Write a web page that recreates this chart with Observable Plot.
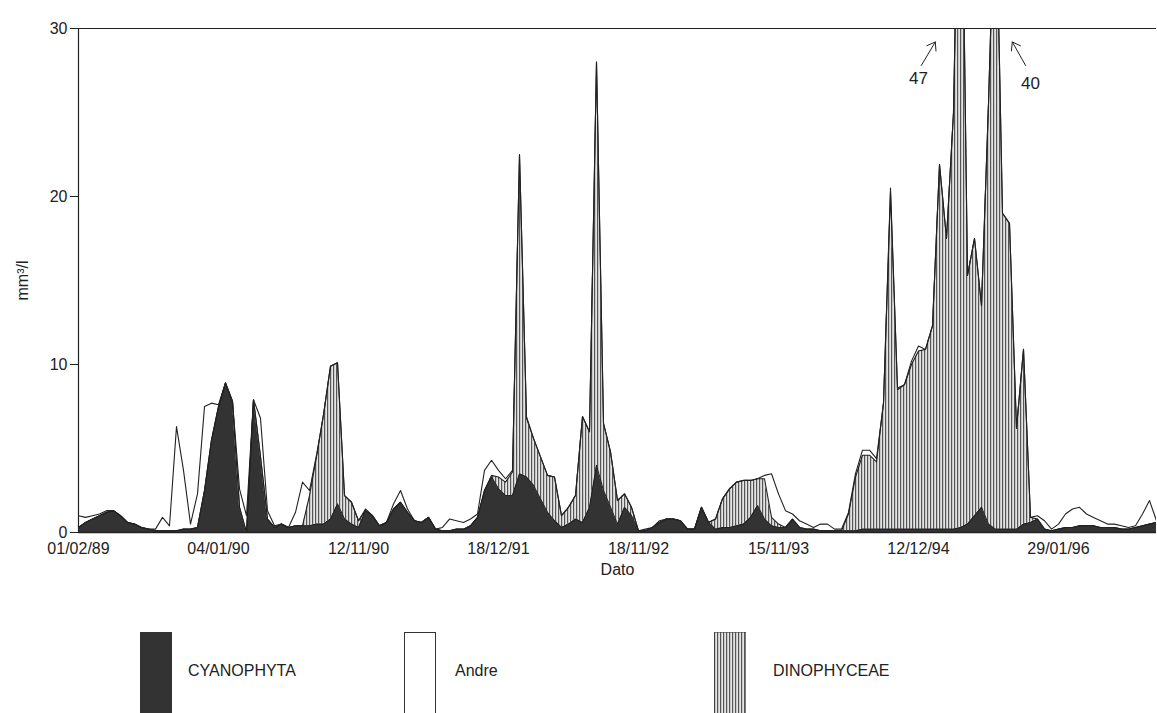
<!DOCTYPE html>
<html><head><meta charset="utf-8">
<script src="https://cdn.jsdelivr.net/npm/d3@7"></script>
<script src="https://cdn.jsdelivr.net/npm/@observablehq/plot@0.6"></script>
<style>
body{margin:0;background:#fff;font-family:"Liberation Sans",Arial,sans-serif;}
#wrap{position:relative;width:1157px;height:713px;overflow:hidden}
.lg{position:absolute;top:632px;height:90px;width:32px;border:1px solid #333;box-sizing:border-box}
.lt{position:absolute;top:662px;font-size:16px;color:#222}
</style></head><body><div id="wrap"></div>
<script>
const tickIndex=[0,20,40,60,80,100,120,140];
const tickLabels=["01/02/89","04/01/90","12/11/90","18/12/91","18/11/92","15/11/93","12/12/94","29/01/96"];
const cyanophyta=[.3,.6,.8,1.0,1.2,1.3,1.0,.6,.5,.3,.2,.1,.1,.1,.1,.2,.2,.3,2.5,5.5,7.5,8.9,7.8,1.5,0,7.9,4.5,.8,.3,.5,
.3,.4,.4,.4,.5,.5,.8,1.7,.8,.5,.3,1.3,1.0,.4,.6,1.4,1.8,1.2,.7,.6,.9,.2,.1,.1,.2,.2,.4,.9,2.5,3.3,
2.6,2.2,2.2,3.5,3.3,2.8,2.0,1.2,.7,.3,.5,.8,.6,1.5,4.0,2.5,1.5,.5,1.5,1.0,.1,.1,.3,.6,.8,.8,.7,.2,.2,1.5,
.6,.2,.3,.3,.4,.5,.9,1.6,.8,.4,.3,.3,.8,.3,.2,.2,.1,.1,.1,.1,.1,.1,.2,.2,.2,.2,.2,.2,.2,.2,
.2,.2,.2,.2,.2,.2,.3,.5,1.0,1.5,.5,.2,.2,.2,.2,.5,.6,.8,.2,.1,.2,.3,.3,.4,.4,.4,.3,.3,.3,.2,
.2,.3,.4,.5,.6];
const dinophyceae=[0,0,0,0,0,0,0,0,0,0,0,0,0,0,0,0,0,0,0,0,0,0,0,0,0,0,0,0,0,0,
0,0,0,1.8,4.0,6.5,9.1,8.4,1.4,1.3,.4,0,0,0,0,0,0,0,0,0,0,0,0,0,0,0,0,0,0,.1,
.7,.8,1.4,19,3.5,2.8,2.5,2.2,2.6,.7,1.0,1.4,6.3,4.5,24,4.0,3.3,1.4,.8,.5,0,0,0,0,0,0,0,0,0,0,
0,.6,1.7,2.3,2.6,2.6,2.2,1.6,2.4,.5,.2,0,0,0,0,0,0,0,0,0,1.0,3.2,4.4,4.4,4.0,7.5,20,8.3,8.6,9.8,
10.6,10.7,12.1,21.7,17.3,24.8,46.5,14.8,16.5,12,25,39.5,18.8,18.2,6,10.4,.3,0,0,0,0,0,0,0,0,0,0,0,0,0,
0,0,0,0,0];
const andre=[.7,.3,.2,.1,.1,0,0,0,0,0,0,.1,.8,.3,6.2,3.5,.3,2.0,5.0,2.2,.1,0,0,1.1,1.0,0,2.3,.5,.1,0,
0,.8,2.6,.3,.1,0,0,0,0,0,0,.1,0,0,0,.3,.7,.2,0,0,0,0,.2,.7,.5,.4,.4,.2,1.2,.9,
.4,.2,.1,0,.1,0,0,0,0,0,0,0,0,0,0,0,0,0,0,0,0,.1,0,.1,0,0,0,0,0,0,
0,0,0,0,0,0,0,0,.2,2.6,1.8,1.0,.3,.4,.3,.1,.4,.4,.1,.1,.1,.2,.3,.3,.2,0,.3,.1,0,.2,
.3,0,0,0,0,0,0,0,0,0,0,0,0,0,0,0,0,.2,.5,.1,.3,.8,1.1,1.1,.7,.5,.4,.2,.2,.2,
.1,.1,.7,1.4,.1];
const series=["CYANOPHYTA","DINOPHYCEAE","Andre"];
const colors=["#333333","#bbbbbb","#ffffff"];
const rows=[];
cyanophyta.forEach((v,i)=>{
  rows.push({i,s:"CYANOPHYTA",v});
  rows.push({i,s:"DINOPHYCEAE",v:dinophyceae[i]??0});
  rows.push({i,s:"Andre",v:andre[i]??0});
});
const plot=Plot.plot({
  width:1157,height:590,marginLeft:78,marginRight:1,marginTop:28,marginBottom:58,
  style:{fontFamily:"Liberation Sans, Arial, sans-serif",fontSize:"16px",color:"#222",background:"#fff"},
  x:{type:"linear",domain:[0,154],ticks:tickIndex,tickFormat:i=>tickLabels[tickIndex.indexOf(i)],tickSize:0,tickPadding:10,label:"Dato",labelAnchor:"center",labelOffset:42,labelArrow:"none"},
  y:{type:"linear",domain:[0,30],ticks:[0,10,20,30],tickSize:8,label:"mm³/l",labelAnchor:"center",labelOffset:62,labelArrow:"none"},
  color:{domain:series,range:colors},
  clip:true,
  marks:[
    Plot.areaY(rows,Plot.stackY({x:"i",y:"v",z:"s",fill:"s",order:series})),
    Plot.lineY(rows,Plot.stackY2({x:"i",y:"v",z:"s",order:series,stroke:"#222",strokeWidth:1.1})),
    Plot.ruleY([0],{stroke:"#222",strokeWidth:1.5,clip:false}),
    Plot.ruleY([30],{stroke:"#222",strokeWidth:1.2,clip:false}),
    Plot.ruleX([0],{stroke:"#222",strokeWidth:1.2,clip:false}),
    Plot.text([{i:120,v:27,t:"47"},{i:136,v:26.7,t:"40"}],{x:"i",y:"v",text:"t",fontSize:17,fill:"#222"}),
    Plot.arrow([{x1:120.4,y1:27.8,x2:122.4,y2:29.2},{x1:135.3,y1:27.8,x2:133.4,y2:29.2}],{x1:"x1",y1:"y1",x2:"x2",y2:"y2",stroke:"#222",headLength:14,headAngle:70,strokeWidth:1})
  ]
});
const svg=d3.select(plot);
const defs=svg.insert("defs",":first-child");
const p=defs.append("pattern").attr("id","vh").attr("patternUnits","userSpaceOnUse").attr("width",3).attr("height",10);
p.append("rect").attr("width",3).attr("height",10).attr("fill","#e4e4e4");
p.append("rect").attr("width",1.2).attr("height",10).attr("fill","#555");
svg.selectAll('path').filter(function(){return (this.getAttribute("fill")||"").toLowerCase()==="#bbbbbb"}).attr("fill","url(#vh)");
const w=document.getElementById("wrap");w.appendChild(plot);
w.insertAdjacentHTML("beforeend",`
<svg width="0" height="0" style="position:absolute"><defs><pattern id="vh2" patternUnits="userSpaceOnUse" width="3" height="10"><rect width="3" height="10" fill="#e4e4e4"/><rect width="1.2" height="10" fill="#555"/></pattern></defs></svg>
<div class="lg" style="left:140px;background:#333"></div><div class="lt" style="left:188px">CYANOPHYTA</div>
<div class="lg" style="left:404px;background:#fff"></div><div class="lt" style="left:455px">Andre</div>
<svg class="lg" style="left:714px;border:none" width="32" height="90"><rect width="32" height="90" fill="url(#vh2)" stroke="#333"/></svg><div class="lt" style="left:773px">DINOPHYCEAE</div>`);
</script></body></html>
